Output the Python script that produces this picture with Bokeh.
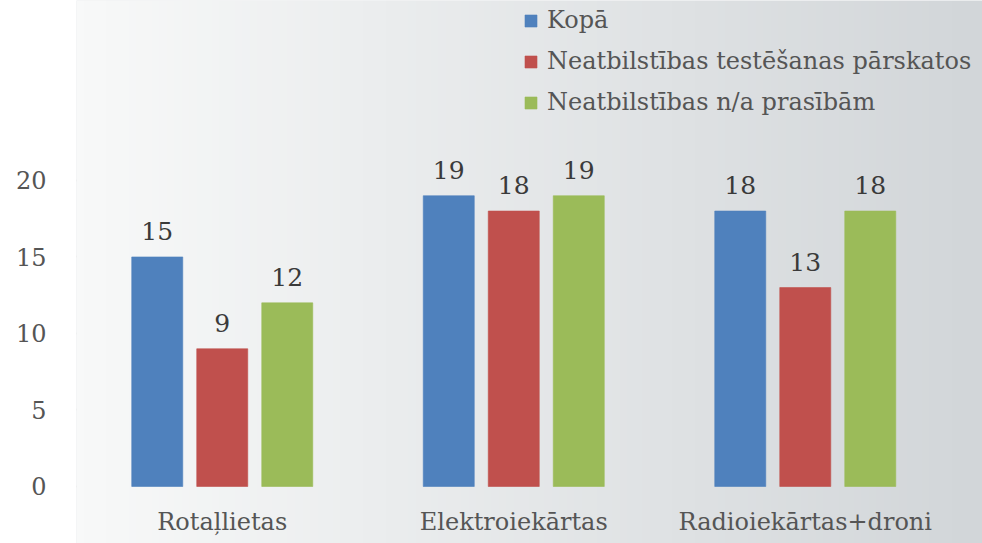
import numpy as np
from bokeh.plotting import figure
from bokeh.models import Range1d, FixedTicker, Legend, LegendItem, ColumnDataSource
from bokeh.core.properties import value
from bokeh.embed import file_html
from bokeh.resources import INLINE

categories = ["Rotaļlietas", "Elektroiekārtas", "Radioiekārtas+droni"]
series_names = ["Kopā", "Neatbilstības testēšanas pārskatos", "Neatbilstības n/a prasībām"]
kopa = [15, 19, 18]
testesana = [9, 18, 13]
prasibas = [12, 19, 18]
y_ticks = [0, 5, 10, 15, 20]

series_values = [kopa, testesana, prasibas]
colors = ["#4f81bd", "#c0504d", "#9bbb59"]
offsets = [-0.223, 0.0, 0.223]
bar_w = 0.175

FONT = "DejaVu Serif"
FS = "24px"

X_END = 3.108
Y_START, Y_END = -3.725, 31.76

p = figure(width=982, height=543, output_backend="svg", toolbar_location=None,
           x_range=Range1d(0, X_END), y_range=Range1d(Y_START, Y_END),
           x_axis_location=None, min_border_left=76, min_border_right=0,
           min_border_top=0, min_border_bottom=0)
p.outline_line_color = None
p.border_fill_color = "white"
p.background_fill_color = "#e8eaec"

# soft horizontal gradient for the plot background
grad_cols = 120
t = np.linspace(0, 1, grad_cols)
c0 = np.array([248, 249, 249]); c1 = np.array([210, 214, 217])
img = np.zeros((1, grad_cols), dtype=np.uint32)
view = img.view(dtype=np.uint8).reshape((1, grad_cols, 4))
for k in range(3):
    view[0, :, k] = (c0[k] + (c1[k] - c0[k]) * t).astype(np.uint8)
view[0, :, 3] = 255
p.image_rgba(image=[img], x=0, y=Y_START, dw=X_END, dh=Y_END - Y_START)

xs = [i + 0.5 for i in range(len(categories))]

renderers = []
for vals, col, off in zip(series_values, colors, offsets):
    src = ColumnDataSource(dict(x=[x + off for x in xs], top=vals,
                                lab=[str(v) for v in vals]))
    r = p.vbar(x="x", top="top", width=bar_w, source=src, fill_color=col,
               line_color=col, line_alpha=0.6)
    renderers.append(r)
    p.text(x="x", y="top", text="lab", source=src, y_offset=-26,
           text_align="center", text_baseline="middle",
           text_font=value(FONT), text_font_size="25px", text_color="#3a3a3a")

# category labels
p.text(x=xs, y=[-2.35] * len(xs), text=categories, text_align="center",
       text_baseline="middle", text_font=value(FONT),
       text_font_size=FS, text_color="#555555")

# y axis
yax = p.yaxis[0]
yax.ticker = FixedTicker(ticks=y_ticks)
yax.axis_line_color = None
yax.major_tick_line_color = None
yax.minor_tick_line_color = None
yax.major_label_standoff = 24
yax.major_label_text_font = FONT
yax.major_label_text_font_size = FS
yax.major_label_text_color = "#555555"

p.xgrid.visible = False
p.ygrid.grid_line_color = "#d6d6d6"
p.ygrid.grid_line_width = 1.5
try:
    p.ygrid.cross_bounds = (0, 3.0)
except Exception:
    pass

legend = Legend(items=[LegendItem(label=n, renderers=[r]) for n, r in zip(series_names, renderers)],
                location=(447, 427), orientation="vertical",
                glyph_width=15, glyph_height=15, label_standoff=9,
                label_height=28,
                label_text_font=FONT, label_text_font_size=FS,
                label_text_color="#555555", spacing=13, padding=0, margin=0,
                background_fill_alpha=0, border_line_color=None)
p.add_layout(legend, "center")

open("out.html", "w").write(file_html(p, INLINE))
